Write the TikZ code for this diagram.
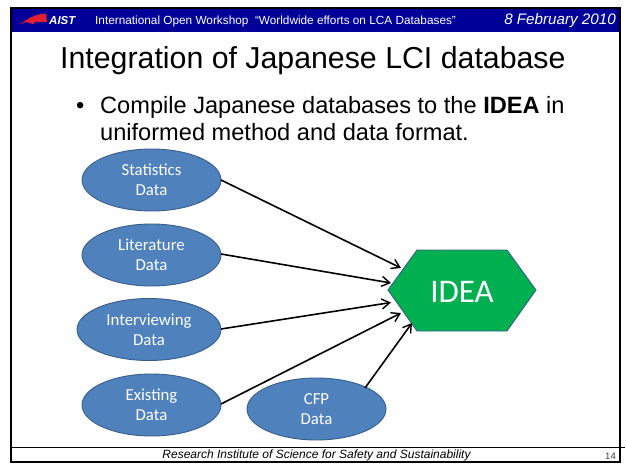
\documentclass[tikz,border=0pt]{standalone}
\usepackage{fontspec}
\setmainfont{Liberation Sans}
\newfontfamily\calfnt{Carlito}
\usetikzlibrary{arrows.meta,shapes.geometric}
\definecolor{hdr}{RGB}{0,0,153}
\definecolor{ell}{RGB}{79,129,189}
\definecolor{ellb}{RGB}{56,93,138}
\definecolor{hexg}{RGB}{0,176,80}
\definecolor{logo}{RGB}{225,30,50}
\tikzset{x=1pt,y=-1pt,
 src/.style={ellipse,draw=ellb,line width=0.9pt,fill=ell,text=white,align=center,minimum width=139pt,minimum height=62pt,inner sep=0pt,font=\calfnt\fontsize{16.8}{20}\selectfont},
 link/.style={draw=black,line width=1.6pt,-{Straight Barb[length=8pt,width=10pt,line width=1.4pt]}}}
\begin{document}
\begin{tikzpicture}
\useasboundingbox (0,0) rectangle (626,463);
\fill[white] (0,0) rectangle (626,463);
\fill[hdr] (11,9) rectangle (619,32);
\draw[black,line width=2pt] (11,7.5) rectangle (619.5,461.5);
\draw[black,line width=1.2pt] (10,447.3) -- (625,447.3);
\fill[logo] (20,24.5) .. controls (28,18) and (36,14) .. (46,13.5) -- (47,22) -- (35,22) -- (33,24) -- (26,22) -- cycle;
\node[text=white,font=\bfseries\itshape\fontsize{11.5}{13}\selectfont,anchor=base west,inner sep=0pt] (aist) at (49,24) {AIST};
\node[text=white,font=\fontsize{11.8}{14}\selectfont,anchor=base west,inner sep=0pt] (wk) at (95,24) {International Open Workshop\ \ “Worldwide efforts on LCA Databases”};
\node[text=white,font=\itshape\fontsize{15.2}{18}\selectfont,anchor=base east,inner sep=0pt] (dt) at (616,24.5) {8 February 2010};
\node[font=\fontsize{30.3}{36}\selectfont,anchor=base west,inner sep=0pt] (title) at (60,68) {Integration of Japanese LCI database};
\node[font=\fontsize{23.6}{28}\selectfont,anchor=base west,inner sep=0pt] (bul) at (76,113) {•};
\node[font=\fontsize{23.6}{28}\selectfont,anchor=base west,inner sep=0pt] (b1) at (100,113) {Compile Japanese databases to the \textbf{IDEA} in};
\node[font=\fontsize{23.6}{28}\selectfont,anchor=base west,inner sep=0pt] (b2) at (100,140) {uniformed method and data format.};
\path[fill=hexg,draw=ellb,line width=0.9pt] (388,290) -- (417,250) -- (507,250) -- (536,290) -- (507,331) -- (417,331) -- cycle;
\node[text=white,font=\calfnt\fontsize{33}{38}\selectfont,inner sep=0pt] (idea) at (462,292) {IDEA};
\node[src] (s) at (151.5,180) {Statistics\\Data};
\node[src] (l) at (151.5,255) {Literature\\Data};
\node[src,minimum width=144pt] (i) at (149,329.5) {Interviewing\\Data};
\node[src] (e) at (151.5,405) {Existing\\Data};
\node[src] (c) at (316.5,409) {CFP\\Data};
\coordinate (ts) at (401,268);
\coordinate (tl) at (391,283);
\coordinate (ti) at (391,302.5);
\coordinate (te) at (401,313);
\coordinate (tc) at (412,323);
\coordinate (fs) at (221,180);
\coordinate (fl) at (221,254);
\coordinate (fi) at (221,329);
\coordinate (fe) at (221,404);
\coordinate (fc) at (365,388);
\draw[link] (fs) -- (ts);
\draw[link] (fl) -- (tl);
\draw[link] (fi) -- (ti);
\draw[link] (fe) -- (te);
\draw[link] (fc) -- (tc);
\node[font=\itshape\fontsize{12}{14}\selectfont,inner sep=0pt] (ft) at (316.5,455) {Research Institute of Science for Safety and Sustainability};
\node[font=\fontsize{9.5}{11}\selectfont,text=black!75,inner sep=0pt] (pg) at (610.5,456.5) {14};
\end{tikzpicture}
\end{document}
